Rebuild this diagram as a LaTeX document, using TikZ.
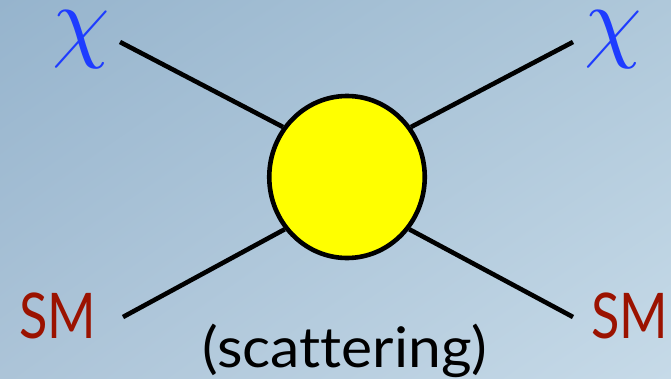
\documentclass[tikz,border=0pt]{standalone}
\usepackage{fontspec}
\setmainfont{Lato}[Ligatures=NoCommon]
\usetikzlibrary{shapes.geometric,shadings}
\pgfdeclarelayer{shadelayer}
\pgfdeclarelayer{bg}
\pgfsetlayers{shadelayer,bg,main}
\definecolor{bgtl}{RGB}{150,180,205}
\definecolor{bgbr}{RGB}{198,218,232}
\definecolor{bgtr}{RGB}{175,200,218}
\definecolor{bgbl}{RGB}{172,196,216}
\definecolor{chiblue}{RGB}{30,60,255}
\definecolor{smred}{RGB}{155,18,0}
\definecolor{blobyellow}{RGB}{255,255,0}
\newcommand{\bigchi}{\scalebox{9.2}{$\chi$}}
\tikzset{
  leg/.style={line width=4.6pt, black},
  chilabel/.style={text=chiblue, inner sep=0pt},
  smlabel/.style={text=smred, inner sep=0pt, anchor=base, font=\fontsize{63}{63}\selectfont},
  blobstyle/.style={ellipse, draw=black, line width=4.6pt, fill=blobyellow, inner sep=0pt,
    minimum width=155.5pt, minimum height=162pt},
  caption/.style={inner sep=0pt, anchor=base, text=black, font=\fontsize{56}{56}\selectfont}
}
\begin{document}
\begin{tikzpicture}[x=1pt,y=-1pt]
\useasboundingbox (0,0) rectangle (671,378);
\begin{pgfonlayer}{shadelayer}
\shade[upper left=bgtl, lower right=bgbr, upper right=bgtr, lower left=bgbl] (0,0) rectangle (671,378);
\end{pgfonlayer}
\node[blobstyle] (blob) at (347,177) {};
\coordinate (tl) at (120,42);
\coordinate (tr) at (573,42);
\coordinate (bl) at (123,317);
\coordinate (br) at (573,317);
\begin{pgfonlayer}{bg}
\draw[leg] (tl) -- (blob.142);
\draw[leg] (tr) -- (blob.38);
\draw[leg] (bl) -- (blob.220);
\draw[leg] (br) -- (blob.320);
\end{pgfonlayer}
\node[chilabel] (chil) at (81,40) {\bigchi};
\node[chilabel] (chir) at (613,40) {\bigchi};
\node[smlabel] (sml) at (58,338) {\scalebox{0.83}[1]{SM}};
\node[smlabel] (smr) at (630,338) {\scalebox{0.83}[1]{SM}};
\node[caption] (cap) at (345,367) {\scalebox{1.05}[1]{(scattering)}};
\end{tikzpicture}
\end{document}
